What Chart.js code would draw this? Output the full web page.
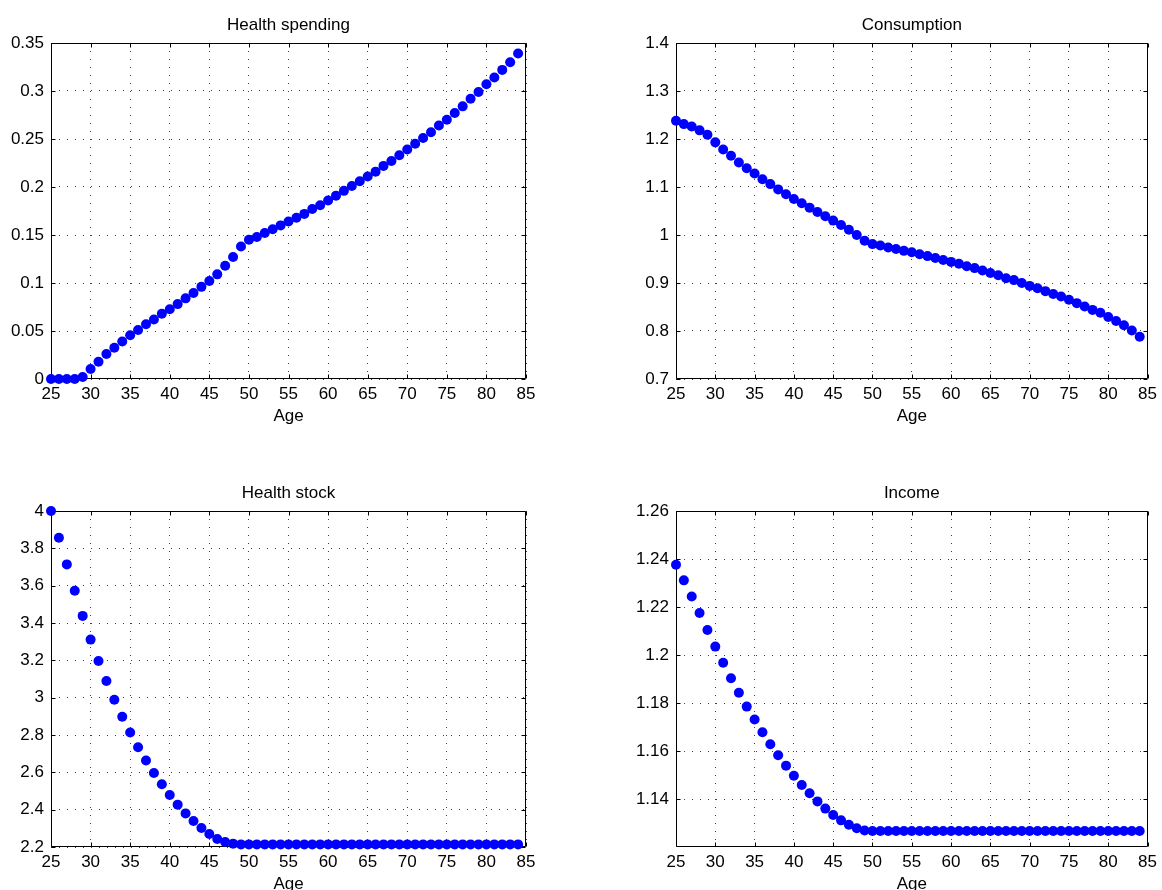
<!DOCTYPE html>
<html>
<head>
<meta charset="utf-8">
<script src="https://cdn.jsdelivr.net/npm/chart.js@4/dist/chart.umd.min.js"></script>
<style>
  html, body { margin: 0; padding: 0; background: #ffffff; }
  #wrap { position: relative; width: 1162px; height: 890px; overflow: hidden; background: #fff; }
  .panel { position: absolute; width: 581px; height: 445px; }
</style>
</head>
<body>
<div id="wrap">
  <div class="panel" style="left:0;top:0"><canvas id="c0" width="581" height="445"></canvas></div>
  <div class="panel" style="left:581px;top:0"><canvas id="c1" width="581" height="445"></canvas></div>
  <div class="panel" style="left:0;top:445px"><canvas id="c2" width="581" height="445"></canvas></div>
  <div class="panel" style="left:581px;top:445px"><canvas id="c3" width="581" height="445"></canvas></div>
</div>
<script>
// ---------------- DATA ----------------
const ages = [25,26,27,28,29,30,31,32,33,34,35,36,37,38,39,40,41,42,43,44,45,46,47,48,49,
  50,51,52,53,54,55,56,57,58,59,60,61,62,63,64,65,66,67,68,69,70,71,72,73,74,75,76,77,78,79,
  80,81,82,83,84];

const healthSpending = [0,0,0,0,0.002,
  0.0104,0.018,0.026,0.0326,0.039,0.0455,0.051,0.057,0.062,0.068,
  0.0726,0.078,0.084,0.0896,0.096,0.102,0.109,0.118,0.127,0.138,
  0.145,0.148,0.152,0.156,0.160,0.164,0.168,0.172,0.177,0.181,
  0.186,0.191,0.196,0.201,0.206,0.211,0.216,0.222,0.227,0.233,
  0.239,0.245,0.251,0.257,0.264,0.270,0.277,0.284,0.292,0.299,
  0.307,0.314,0.322,0.330,0.339];

const consumption = [1.238,1.231,1.226,1.218,1.209,
  1.193,1.178,1.165,1.151,1.139,1.128,1.116,1.106,1.095,1.085,
  1.075,1.066,1.057,1.048,1.039,1.030,1.021,1.011,1.000,0.988,
  0.981,0.978,0.974,0.971,0.967,0.964,0.960,0.956,0.952,0.948,
  0.944,0.940,0.935,0.931,0.926,0.921,0.916,0.910,0.906,0.900,
  0.894,0.889,0.883,0.877,0.872,0.865,0.858,0.851,0.844,0.838,
  0.829,0.821,0.812,0.801,0.788];

const healthStock = [4.000,3.857,3.714,3.573,3.438,
  3.311,3.196,3.089,2.989,2.898,2.813,2.734,2.663,2.596,2.536,
  2.479,2.427,2.380,2.339,2.302,2.270,2.243,2.227,2.218,2.214,
  2.214,2.214,2.214,2.214,2.214,2.214,2.214,2.214,2.214,2.214,
  2.214,2.214,2.214,2.214,2.214,2.214,2.214,2.214,2.214,2.214,
  2.214,2.214,2.214,2.214,2.214,2.214,2.214,2.214,2.214,2.214,
  2.214,2.214,2.214,2.214,2.214];

const income = [1.2376,1.2311,1.2244,1.2175,1.2104,
  1.2035,1.1968,1.1903,1.1843,1.1785,1.1731,1.1678,1.1628,1.1582,1.1539,
  1.1497,1.1458,1.1424,1.1390,1.1360,1.1333,1.1311,1.1293,1.1278,1.1269,
  1.1267,1.1267,1.1267,1.1267,1.1267,1.1267,1.1267,1.1267,1.1267,1.1267,
  1.1267,1.1267,1.1267,1.1267,1.1267,1.1267,1.1267,1.1267,1.1267,1.1267,
  1.1267,1.1267,1.1267,1.1267,1.1267,1.1267,1.1267,1.1267,1.1267,1.1267,
  1.1267,1.1267,1.1267,1.1267,1.1267];

const titles = ['Health spending', 'Consumption', 'Health stock', 'Income'];
const xLabel = 'Age';

const xTicks = [25,30,35,40,45,50,55,60,65,70,75,80,85];
const xTickLabels = ['25','30','35','40','45','50','55','60','65','70','75','80','85'];

const yTicksSpending = [0,0.05,0.1,0.15,0.2,0.25,0.3,0.35];
const yLabelsSpending = ['0','0.05','0.1','0.15','0.2','0.25','0.3','0.35'];
const yTicksConsumption = [0.7,0.8,0.9,1,1.1,1.2,1.3,1.4];
const yLabelsConsumption = ['0.7','0.8','0.9','1','1.1','1.2','1.3','1.4'];
const yTicksStock = [2.2,2.4,2.6,2.8,3,3.2,3.4,3.6,3.8,4];
const yLabelsStock = ['2.2','2.4','2.6','2.8','3','3.2','3.4','3.6','3.8','4'];
const yTicksIncome = [1.14,1.16,1.18,1.2,1.22,1.24,1.26];
const yLabelsIncome = ['1.14','1.16','1.18','1.2','1.22','1.24','1.26'];

const yRangeSpending = [0, 0.35];
const yRangeConsumption = [0.7, 1.4];
const yRangeStock = [2.2, 4];
const yRangeIncome = [1.12, 1.26];
const xRange = [25, 85];

// ---------------- LAYOUT / STYLE ----------------
const FONT = '"Liberation Sans", Arial, Helvetica, sans-serif';
const FSIZE = 17;
const W = 581, H = 445;

const panels = [
  { id: 'c0', title: titles[0], values: healthSpending, yr: yRangeSpending, yt: yTicksSpending, yl: yLabelsSpending, area: { l: 51, r: 526, t: 43, b: 379 } },
  { id: 'c1', title: titles[1], values: consumption, yr: yRangeConsumption, yt: yTicksConsumption, yl: yLabelsConsumption, area: { l: 95, r: 570, t: 43, b: 379 } },
  { id: 'c2', title: titles[2], values: healthStock, yr: yRangeStock, yt: yTicksStock, yl: yLabelsStock, area: { l: 51, r: 526, t: 66, b: 402 } },
  { id: 'c3', title: titles[3], values: income, yr: yRangeIncome, yt: yTicksIncome, yl: yLabelsIncome, area: { l: 95, r: 570, t: 66, b: 402 } }
];

const frame = {
  id: 'frame',
  beforeDatasetsDraw(chart, args, opts) {
    const ctx = chart.ctx;
    const a = chart.chartArea;
    const xs = chart.scales.x, ys = chart.scales.y;
    const L = Math.round(a.left) + 0.5, R = Math.round(a.right) - 0.5;
    const T = Math.round(a.top) + 0.5, B = Math.round(a.bottom) - 0.5;
    ctx.save();
    ctx.strokeStyle = '#000';
    ctx.lineWidth = 1;
    ctx.setLineDash([]);
    ctx.beginPath();
    ctx.rect(L, T, R - L, B - T);
    ctx.stroke();
    const tl = 4;
    ctx.beginPath();
    xs.ticks.forEach(t => {
      const px = Math.round(xs.getPixelForValue(t.value)) + 0.5;
      ctx.moveTo(px, B); ctx.lineTo(px, B - tl);
      ctx.moveTo(px, T); ctx.lineTo(px, T + tl);
    });
    ys.ticks.forEach(t => {
      const py = Math.round(ys.getPixelForValue(t.value)) + 0.5;
      ctx.moveTo(L, py); ctx.lineTo(L + tl, py);
      ctx.moveTo(R, py); ctx.lineTo(R - tl, py);
    });
    ctx.stroke();
    ctx.restore();
  },
  afterDraw(chart, args, opts) {
    const ctx = chart.ctx;
    const a = chart.chartArea;
    ctx.save();
    ctx.fillStyle = '#000';
    ctx.font = FSIZE + 'px ' + FONT;
    ctx.textAlign = 'center';
    ctx.textBaseline = 'alphabetic';
    const cx = (a.left + a.right) / 2;
    ctx.fillText(opts.title, cx, a.top - 13);
    ctx.fillText(opts.xlabel, cx, a.bottom + 42);
    ctx.restore();
  }
};

panels.forEach(p => {
  const pts = ages.map((x, i) => ({ x: x, y: p.values[i] }));
  new Chart(document.getElementById(p.id), {
    type: 'scatter',
    data: {
      datasets: [{
        data: pts,
        showLine: false,
        clip: false,
        pointRadius: 5,
        pointHoverRadius: 5,
        pointBackgroundColor: '#0000ff',
        pointBorderColor: '#0000ff',
        pointBorderWidth: 0,
        backgroundColor: '#0000ff'
      }]
    },
    plugins: [frame],
    options: {
      responsive: false,
      animation: false,
      devicePixelRatio: 1,
      events: [],
      layout: { padding: { left: 0, top: p.area.t, right: W - p.area.r, bottom: 0 } },
      plugins: {
        legend: { display: false },
        tooltip: { enabled: false },
        title: { display: false },
        frame: { title: p.title, xlabel: xLabel }
      },
      scales: {
        x: {
          type: 'linear',
          min: xRange[0], max: xRange[1],
          afterBuildTicks(s) { s.ticks = xTicks.map(v => ({ value: v })); },
          afterFit(s) { s.height = H - p.area.b; },
          ticks: {
            autoSkip: false, maxRotation: 0, padding: 5,
            color: '#000',
            font: { family: FONT, size: FSIZE },
            callback: (v, i) => xTickLabels[i]
          },
          grid: { color: 'rgba(0,0,0,0.75)', lineWidth: 1, drawTicks: false },
          border: { display: false, dash: [1, 7] }
        },
        y: {
          type: 'linear',
          min: p.yr[0], max: p.yr[1],
          afterBuildTicks(s) { s.ticks = p.yt.map(v => ({ value: v })); },
          afterFit(s) { s.width = p.area.l; },
          ticks: {
            autoSkip: false, padding: 7,
            color: '#000',
            font: { family: FONT, size: FSIZE },
            callback: (v, i) => p.yl[i]
          },
          grid: { color: 'rgba(0,0,0,0.75)', lineWidth: 1, drawTicks: false },
          border: { display: false, dash: [1, 7] }
        }
      }
    }
  });
});
</script>
</body>
</html>
